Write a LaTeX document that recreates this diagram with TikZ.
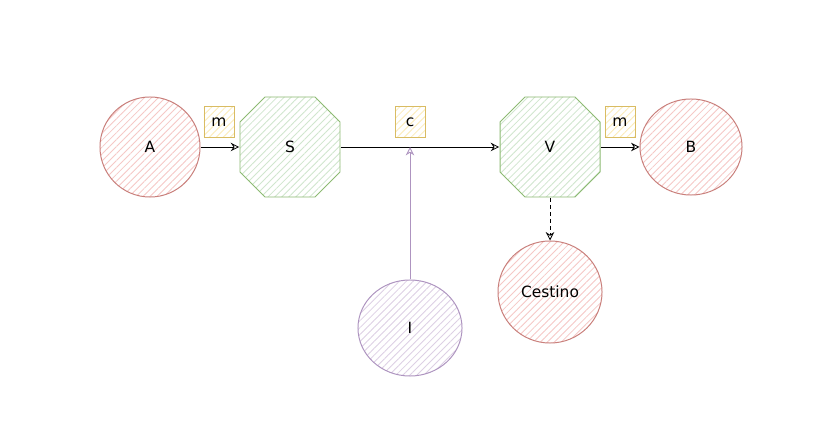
\documentclass[tikz,border=0pt]{standalone}
\usepackage{fontspec}
\setmainfont{DejaVu Sans}
\usetikzlibrary{shapes.geometric,patterns.meta,arrows.meta,calc}
\definecolor{redline}{HTML}{C97F7B}
\definecolor{redfill}{HTML}{F6C8C6}
\definecolor{greenline}{HTML}{8DBA72}
\definecolor{greenfill}{HTML}{D0E6CE}
\definecolor{purpleline}{HTML}{AE94C0}
\definecolor{purplefill}{HTML}{DDD0E5}
\definecolor{yellowline}{HTML}{D9BC63}
\definecolor{yellowfill}{HTML}{FBEBB8}

\begin{document}
\begin{tikzpicture}[x=0.025cm, y=-0.025cm,
    hatch/.style={pattern={Lines[angle=45,distance=3.5pt,line width=0.6pt]}, pattern color=#1},
    txt/.style={font=\fontsize{11}{13}\selectfont},
    bubble/.style={ellipse, draw=redline, hatch=redfill, line width=0.7pt, inner sep=0pt, txt},
    octa/.style={rectangle, minimum width=2.525cm, minimum height=2.525cm, inner sep=0pt, txt},
    octaline/.style={draw=greenline, hatch=greenfill, line width=0.7pt},
    tag/.style={draw=yellowline, hatch=yellowfill, line width=0.7pt, minimum size=0.75cm, inner sep=0pt, txt},
    arr/.style={-{Stealth[open,length=6pt,width=6pt]}, line width=0.6pt}
]
    \useasboundingbox[fill=white] (0,0) rectangle (827,444);

    % ottagoni disegnati intorno ai nodi S e V (angoli tagliati di 25px)
    \foreach \n/\x in {S/290, V/550} {
        \path[octaline] (\x-25,97) -- (\x+25,97) -- (\x+50,122) -- (\x+50,172) -- (\x+25,197)
            -- (\x-25,197) -- (\x-50,172) -- (\x-50,122) -- cycle;
    }

    \node[bubble, minimum width=2.5cm, minimum height=2.5cm]   (A)       at (150,147) {A};
    \node[octa]                                                (S)       at (290,147) {S};
    \node[octa]                                                (V)       at (550,147) {V};
    \node[bubble, minimum width=2.55cm, minimum height=2.4cm]  (B)       at (691,147) {B};
    \node[bubble, minimum width=2.6cm, minimum height=2.55cm]  (cestino) at (550,292) {Cestino};
    \node[bubble, draw=purpleline, hatch=purplefill,
          minimum width=2.6cm, minimum height=2.4cm]           (I)       at (410,328) {I};

    \node[tag] (tagAS) at (219,122) {m};
    \node[tag] (tagSV) at (410,122) {c};
    \node[tag] (tagVB) at (620,122) {m};

    \draw[arr] (A) -- (S);
    \draw[arr] (S) -- (V);
    \draw[arr] (V) -- (B);
    \draw[arr, dash pattern=on 3pt off 2pt] (V) -- (cestino);
    \draw[arr, draw=purpleline] (I) -- (I |- S);
\end{tikzpicture}
\end{document}
